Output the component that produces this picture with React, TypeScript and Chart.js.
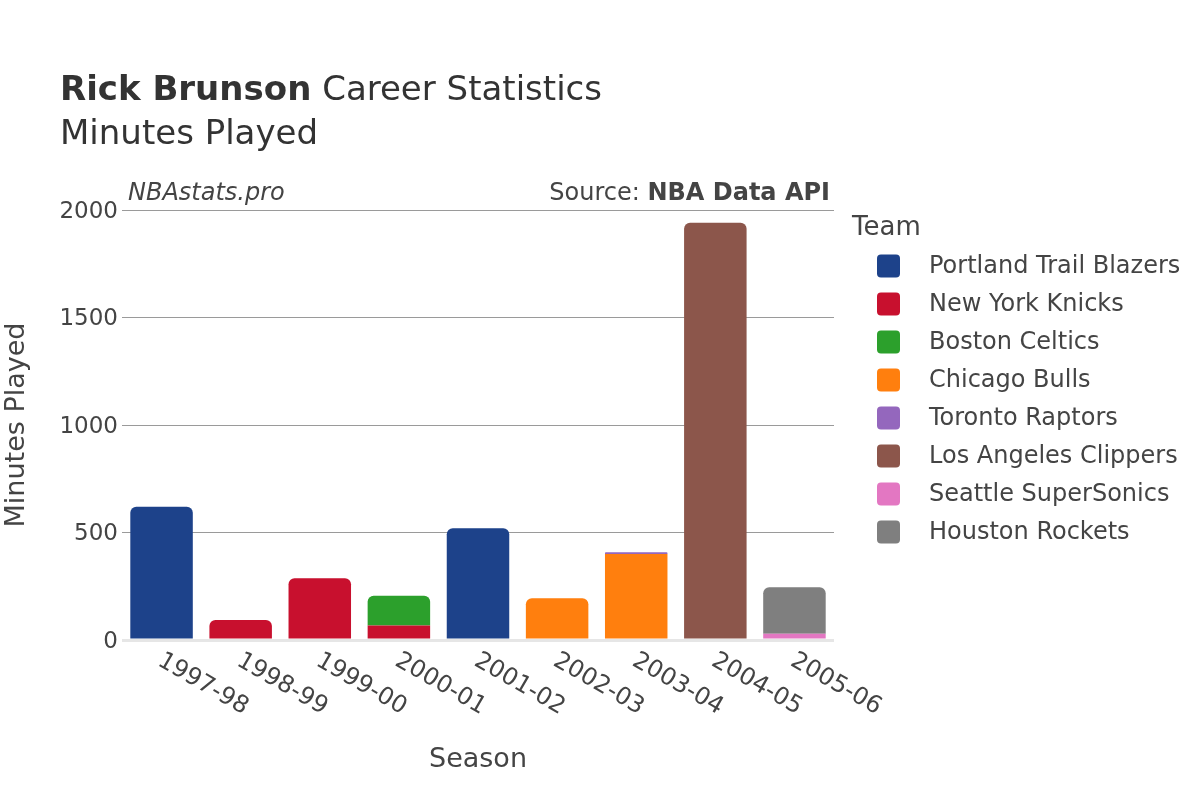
import React, { useEffect, useRef } from "react";
import { Chart, registerables } from "chart.js";

Chart.register(...registerables);

const FONT = "'DejaVu Sans', 'Liberation Sans', sans-serif";

const seasons = ["1997-98", "1998-99", "1999-00", "2000-01", "2001-02", "2002-03", "2003-04", "2004-05", "2005-06"];
const teams = [
  "Portland Trail Blazers",
  "New York Knicks",
  "Boston Celtics",
  "Chicago Bulls",
  "Toronto Raptors",
  "Los Angeles Clippers",
  "Seattle SuperSonics",
  "Houston Rockets",
];
const teamColors = ["#1d428a", "#c8102e", "#2ca02c", "#ff7f0e", "#9467bd", "#8c564b", "#e377c2", "#7f7f7f"];

const portland = [620, null, null, null, 520, null, null, null, null];
const knicks = [null, 93, 287, 67, null, null, null, null, null];
const celtics = [null, null, null, 139, null, null, null, null, null];
const bulls = [null, null, null, null, null, 194, 400, null, null];
const raptors = [null, null, null, null, null, null, 8, null, null];
const clippers = [null, null, null, null, null, null, null, 1941, null];
const sonics = [null, null, null, null, null, null, null, null, 29];
const rockets = [null, null, null, null, null, null, null, null, 216];

const yTicks = [0, 500, 1000, 1500, 2000];

const seriesValues = [portland, knicks, celtics, bulls, raptors, clippers, sonics, rockets];

const overlayPlugin = {
  id: "overlay",
  afterDraw(chart: any) {
    const ctx = chart.ctx as CanvasRenderingContext2D;
    ctx.save();
    ctx.textAlign = "left";
    ctx.textBaseline = "alphabetic";

    // Title
    ctx.fillStyle = "#333";
    ctx.font = `bold 34px ${FONT}`;
    ctx.fillText("Rick Brunson", 60, 100);
    const bw = ctx.measureText("Rick Brunson").width;
    ctx.font = `34px ${FONT}`;
    ctx.fillText(" Career Statistics", 60 + bw, 100);
    ctx.fillText("Minutes Played", 60, 144);

    // Watermark & source
    ctx.fillStyle = "#444";
    ctx.font = `italic 24px ${FONT}`;
    ctx.fillText("NBAstats.pro", 128, 200);
    ctx.textAlign = "right";
    ctx.font = `bold 24px ${FONT}`;
    ctx.fillText("NBA Data API", 830, 200);
    const sw = ctx.measureText("NBA Data API").width;
    ctx.font = `24px ${FONT}`;
    ctx.fillText("Source: ", 830 - sw, 200);

    // Legend
    ctx.textAlign = "left";
    ctx.font = `26px ${FONT}`;
    ctx.fillStyle = "#444";
    ctx.fillText("Team", 852, 235);
    ctx.font = `24px ${FONT}`;
    teams.forEach((t, i) => {
      const cy = 266 + 38 * i;
      ctx.fillStyle = teamColors[i];
      ctx.beginPath();
      (ctx as any).roundRect(877, cy - 11.5, 23, 23, 4);
      ctx.fill();
      ctx.fillStyle = "#444";
      ctx.textBaseline = "middle";
      ctx.fillText(t, 929, cy + 1);
      ctx.textBaseline = "alphabetic";
    });

    // Rotated x tick labels
    const xs = chart.scales.x;
    ctx.font = `24px ${FONT}`;
    ctx.fillStyle = "#444";
    seasons.forEach((s, i) => {
      const x = xs.getPixelForValue(i);
      ctx.save();
      ctx.translate(x - 2, 659);
      ctx.rotate(Math.PI / 6);
      ctx.textAlign = "left";
      ctx.textBaseline = "middle";
      ctx.fillText(s, 0, 0);
      ctx.restore();
    });

    ctx.restore();
  },
};

export default function App() {
  const canvasRef = useRef<HTMLCanvasElement | null>(null);

  useEffect(() => {
    if (!canvasRef.current) return;
    const chart = new Chart(canvasRef.current, {
      type: "bar",
      data: {
        labels: seasons,
        datasets: teams.map((t, i) => ({
          label: t,
          data: seriesValues[i] as any,
          backgroundColor: teamColors[i],
          borderRadius: 6,
          borderSkipped: "start" as any,
          barPercentage: 0.79,
          categoryPercentage: 1,
        })),
      },
      options: {
        responsive: false,
        animation: false,
        layout: { padding: { top: 210, right: 366, left: 0, bottom: 0 } },
        plugins: {
          legend: { display: false },
          title: { display: false },
          tooltip: { enabled: false },
        },
        scales: {
          x: {
            stacked: true,
            grid: { display: false },
            border: { display: false },
            ticks: { display: false },
            title: {
              display: true,
              text: "Season",
              color: "#444",
              font: { family: FONT, size: 27 },
              padding: { top: 0, bottom: 24 },
            },
            afterFit(scale: any) {
              scale.height = 160;
            },
          },
          y: {
            stacked: true,
            min: 0,
            max: 2000,
            afterBuildTicks(scale: any) {
              scale.ticks = yTicks.map((v) => ({ value: v }));
            },
            grid: {
              drawTicks: false,
              color: (c: any) => (c.tick && c.tick.value === 0 ? "#e6e6e6" : "#9a9a9a"),
              lineWidth: (c: any) => (c.tick && c.tick.value === 0 ? 3 : 1),
            },
            border: { display: false },
            ticks: {
              color: "#444",
              font: { family: FONT, size: 23 },
              padding: 4,
              labelOffset: 2,
              callback: (v: any) => String(v),
            },
            title: {
              display: true,
              text: "Minutes Played",
              color: "#444",
              font: { family: FONT, size: 27 },
              padding: { top: 1, bottom: 0 },
            },
            afterFit(scale: any) {
              scale.width = 122;
            },
          },
        },
      },
      plugins: [overlayPlugin],
    });
    return () => chart.destroy();
  }, []);

  return (
    <div style={{ position: "absolute", left: 0, top: 0, width: 1200, height: 800, background: "#fff" }}>
      <canvas ref={canvasRef} width={1200} height={800} style={{ display: "block" }} />
    </div>
  );
}
